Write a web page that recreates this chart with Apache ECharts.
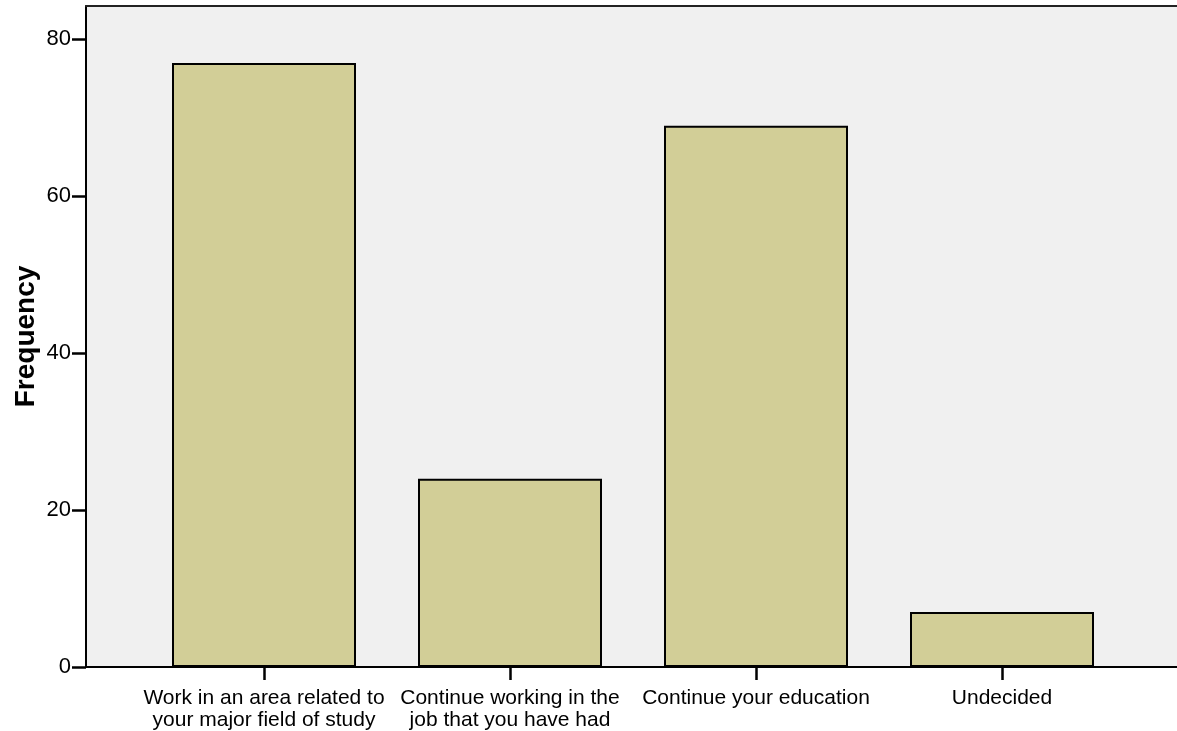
<!DOCTYPE html>
<html>
<head>
<meta charset="utf-8">
<script src="https://cdn.jsdelivr.net/npm/echarts@6/dist/echarts.min.js"></script>
<style>
html,body{margin:0;padding:0;background:#fff;overflow:hidden;}
#chart{width:1177px;height:731px;}
</style>
</head>
<body>
<div id="chart"></div>
<script>
const categories = [
  "Work in an area related to\nyour major field of study",
  "Continue working in the\njob that you have had",
  "Continue your education",
  "Undecided"
];
const frequencies = [77, 24, 69, 7];
const yTicks = [0, 20, 40, 60, 80];
const yMax = 84.25;

const FONT = '"Liberation Sans", Arial, sans-serif';
const chart = echarts.init(document.getElementById('chart'), null, {renderer: 'canvas'});
chart.setOption({
  animation: false,
  backgroundColor: '#ffffff',
  grid: [
    {left: 86, width: 1110, top: 6, bottom: 64, show: true, backgroundColor: '#F0F0F0', borderWidth: 0, containLabel: false, outerBoundsMode: 'none'},
    {left: 141, width: 984, top: 6, bottom: 64, containLabel: false, outerBoundsMode: 'none'}
  ],
  xAxis: [
    {gridIndex: 0, type: 'value', min: 0, max: 1, axisLine: {show: true, lineStyle: {color: '#000', width: 2}}, axisTick: {show: false}, axisLabel: {show: false}, splitLine: {show: false}},
    {gridIndex: 1, type: 'category', data: categories, axisLine: {show: false},
     axisTick: {show: true, alignWithLabel: true, length: 13, lineStyle: {color: '#000', width: 2.5}},
     axisLabel: {color: '#000', fontFamily: FONT, fontSize: 21, lineHeight: 22, margin: 20, interval: 0},
     splitLine: {show: false}},
    {gridIndex: 0, type: 'value', position: 'top', min: 0, max: 1, axisLine: {show: true, lineStyle: {color: '#222', width: 2}}, axisTick: {show: false}, axisLabel: {show: false}, splitLine: {show: false}}
  ],
  yAxis: [
    {gridIndex: 0, type: 'value', min: 0, max: yMax,
     name: 'Frequency', nameLocation: 'middle', nameRotate: 90, nameGap: 46, nameMoveOverlap: false,
     nameTextStyle: {color: '#000', fontFamily: FONT, fontSize: 28, fontWeight: 'bold'},
     axisLine: {show: true, lineStyle: {color: '#000', width: 2}},
     axisTick: {show: true, length: 14, customValues: yTicks, lineStyle: {color: '#000', width: 2.5}},
     axisLabel: {color: '#000', fontFamily: FONT, fontSize: 22, margin: 15, customValues: yTicks},
     splitLine: {show: false}},
    {gridIndex: 1, type: 'value', min: 0, max: yMax, show: false, splitLine: {show: false}}
  ],
  series: [{
    type: 'bar', xAxisIndex: 1, yAxisIndex: 1,
    data: frequencies, barWidth: 184,
    itemStyle: {color: '#D2CE97', borderColor: '#000', borderWidth: 2}
  }]
});
</script>
</body>
</html>
